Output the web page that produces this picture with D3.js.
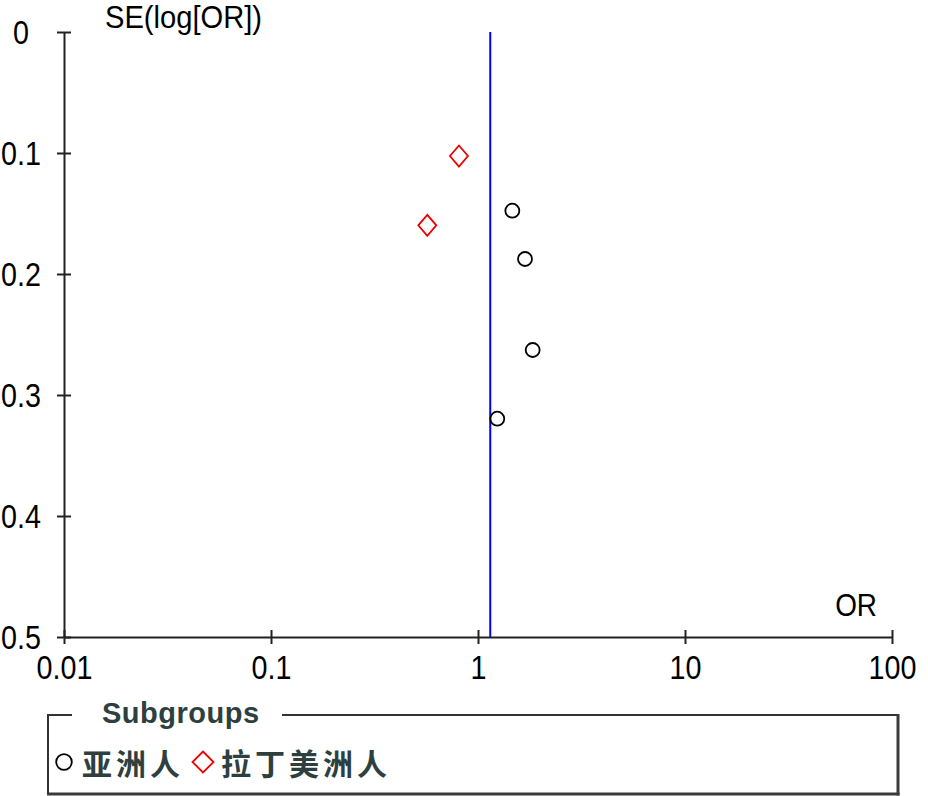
<!DOCTYPE html>
<html><head><meta charset="utf-8">
<script src="https://cdn.jsdelivr.net/npm/d3@7"></script>
<style>
html,body{margin:0;padding:0;background:#fff;}
svg{display:block;}
</style></head>
<body>
<script>
// Data
const seriesNames = ["亚洲人", "拉丁美洲人"];
const asianOR = [1.465, 1.687, 1.837, 1.239];
const asianSE = [0.1477, 0.1876, 0.2628, 0.3196];
const latinOR = [0.809, 0.569];
const latinSE = [0.1025, 0.1598];
const pooledOR = 1.146;
const xTicks = [0.01, 0.1, 1, 10, 100];
const xTickLabels = ["0.01", "0.1", "1", "10", "100"];
const yTicks = [0, 0.1, 0.2, 0.3, 0.4, 0.5];
const yTickLabels = ["0", "0.1", "0.2", "0.3", "0.4", "0.5"];

(function () {
const W = 928, H = 796;
const mLeft = 64, mRight = 892, mTop = 32, mBottom = 637;
const svg = d3.select("body").append("svg").attr("width", W).attr("height", H);

const x = d3.scaleLog().domain([0.01, 100]).range([mLeft, mRight]);
const y = d3.scaleLinear().domain([0, 0.5]).range([mTop, mBottom]);

const font = "'Liberation Sans', Arial, sans-serif";
const axisColor = "#222";
const sx = 0.87;

// pooled line
svg.append("line")
  .attr("x1", x(pooledOR)).attr("x2", x(pooledOR))
  .attr("y1", y(0)).attr("y2", y(0.5))
  .attr("stroke", "#0000ff").attr("stroke-width", 2);

// x axis
const gx = svg.append("g").attr("transform", `translate(0,${mBottom})`)
  .call(d3.axisBottom(x).tickValues(xTicks).tickFormat((d, i) => xTickLabels[i]).tickSizeOuter(0).tickSizeInner(7));
gx.select(".domain").attr("stroke", axisColor).attr("stroke-width", 2);
gx.selectAll(".tick line").attr("stroke", axisColor).attr("stroke-width", 2).attr("y1", -7).attr("y2", 7);
gx.selectAll(".tick text").attr("fill", "#000").attr("font-family", font).attr("font-size", 33)
  .attr("y", 42).attr("dy", 0).attr("transform", `scale(${sx},1)`);

// y axis
const gy = svg.append("g").attr("transform", `translate(${mLeft},0)`)
  .call(d3.axisLeft(y).tickValues(yTicks).tickFormat((d, i) => yTickLabels[i]).tickSizeOuter(0).tickSizeInner(7));
gy.select(".domain").attr("stroke", axisColor).attr("stroke-width", 2);
gy.selectAll(".tick line").attr("stroke", axisColor).attr("stroke-width", 2).attr("x1", -7).attr("x2", 7);
gy.selectAll(".tick text").attr("fill", "#000").attr("font-family", font).attr("font-size", 33)
  .attr("text-anchor", "middle").attr("x", -43 / sx).attr("dy", "0.36em").attr("transform", `scale(${sx},1)`);

// axis titles
svg.append("text").attr("transform", `translate(105,28) scale(0.94,1)`).attr("font-family", font).attr("font-size", 31)
  .attr("fill", "#000").text("SE(log[OR])");
svg.append("text").attr("transform", `translate(877,616) scale(0.9,1)`).attr("text-anchor", "end").attr("font-family", font)
  .attr("font-size", 31).attr("fill", "#000").text("OR");

// points
const asian = asianOR.map((d, i) => ({or: d, se: asianSE[i]}));
const latin = latinOR.map((d, i) => ({or: d, se: latinSE[i]}));

svg.append("g").selectAll("circle").data(asian).join("circle")
  .attr("cx", d => x(d.or)).attr("cy", d => y(d.se)).attr("r", 7)
  .attr("fill", "none").attr("stroke", "#000").attr("stroke-width", 1.8);

const diamond = (cx, cy, hw, hh) => `M${cx},${cy - hh}L${cx + hw},${cy}L${cx},${cy + hh}L${cx - hw},${cy}Z`;
svg.append("g").selectAll("path").data(latin).join("path")
  .attr("d", d => diamond(x(d.or), y(d.se), 9, 10.5))
  .attr("fill", "none").attr("stroke", "#ee0000").attr("stroke-width", 1.8);

// legend box
const lg = svg.append("g");
const bx0 = 48, bx1 = 898, by0 = 715, by1 = 794;
const bcol = "#333";
lg.append("line").attr("x1", bx0).attr("x2", 72).attr("y1", by0).attr("y2", by0).attr("stroke", bcol).attr("stroke-width", 2);
lg.append("line").attr("x1", 282).attr("x2", bx1).attr("y1", by0).attr("y2", by0).attr("stroke", bcol).attr("stroke-width", 2);
lg.append("line").attr("x1", bx0).attr("x2", bx0).attr("y1", by0 - 1).attr("y2", by1).attr("stroke", bcol).attr("stroke-width", 2);
lg.append("line").attr("x1", bx1).attr("x2", bx1).attr("y1", by0 - 1).attr("y2", by1 + 1.5).attr("stroke", "#3a3a3a").attr("stroke-width", 3);
lg.append("line").attr("x1", bx0 - 1).attr("x2", bx1 + 1.5).attr("y1", by1).attr("y2", by1).attr("stroke", "#3a3a3a").attr("stroke-width", 3);

const legendTextColor = "#2e3f3f";
lg.append("text").attr("x", 102).attr("y", 723).attr("font-family", font).attr("font-weight", "bold")
  .attr("font-size", 29).attr("letter-spacing", 0.5).attr("fill", legendTextColor).text("Subgroups");

lg.append("circle").attr("cx", 64).attr("cy", 762).attr("r", 7.8)
  .attr("fill", "none").attr("stroke", "#000").attr("stroke-width", 1.8);
lg.append("path").attr("d", diamond(203, 762, 10.5, 10.5))
  .attr("fill", "none").attr("stroke", "#ee0000").attr("stroke-width", 1.8);

const cjk = "'Noto Sans CJK SC', 'Noto Sans', sans-serif";
lg.append("text").attr("x", 82).attr("y", 775).attr("font-family", cjk).attr("font-weight", "bold")
  .attr("font-size", 30).attr("letter-spacing", 4).attr("fill", legendTextColor).text(seriesNames[0]);
lg.append("text").attr("x", 221).attr("y", 775).attr("font-family", cjk).attr("font-weight", "bold")
  .attr("font-size", 30).attr("letter-spacing", 4).attr("fill", legendTextColor).text(seriesNames[1]);
})();
</script>
</body></html>
